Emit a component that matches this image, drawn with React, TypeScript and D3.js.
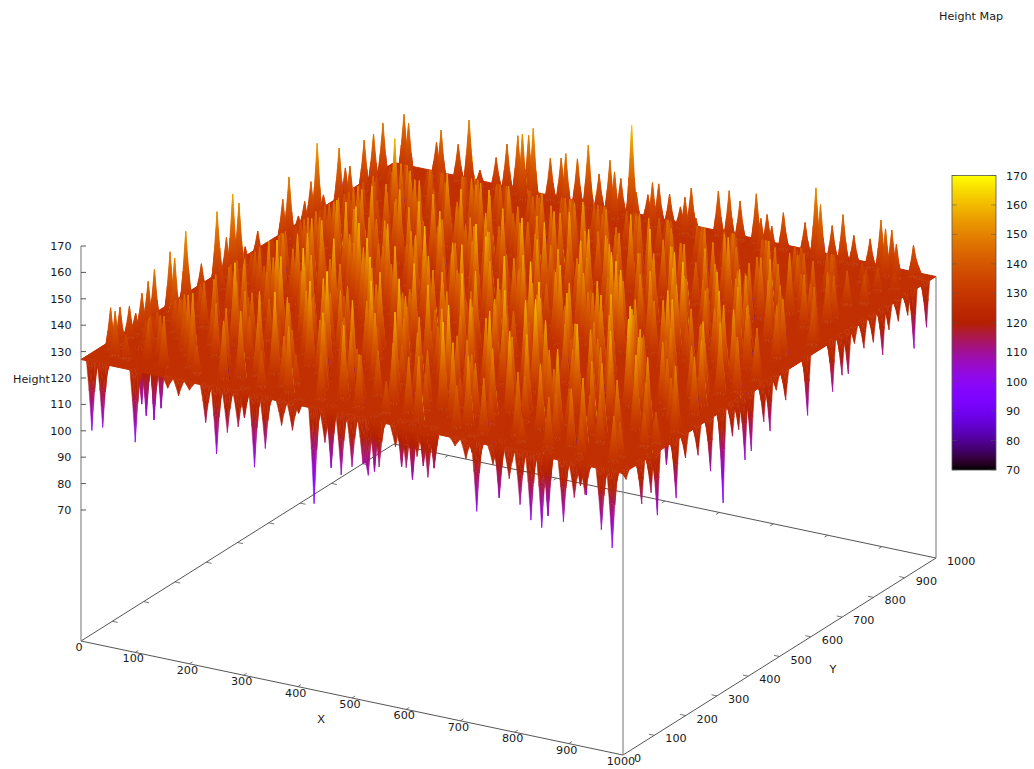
import React, { useRef, useEffect } from "react";
import { select, scaleLinear, range, rgb, line } from "d3";

const WIDTH = 1034;
const HEIGHT = 769;

// ticks
const groundTicks = [0, 100, 200, 300, 400, 500, 600, 700, 800, 900, 1000];
const heightTicks = [70, 80, 90, 100, 110, 120, 130, 140, 150, 160, 170];

// the flat level of the map, everything below is measured against it
const baseLevel = 127;

// downward spikes along the y=0 edge
const frontDipX = [20, 40, 100, 160, 180, 200, 230, 250, 270, 290, 320, 340, 370, 390, 430, 450, 480, 500, 520, 530, 550, 580, 600, 620, 640, 690, 710, 730, 760, 790, 810, 830, 850, 890, 910, 930, 960, 980];
const frontDipZ = [101, 103, 100, 123, 121, 124, 113, 102, 111, 114, 100, 108, 118, 117, 91, 115, 104, 108, 110, 106, 110, 119, 112, 117, 110, 124, 120, 101, 120, 116, 107, 102, 100, 104, 114, 116, 104, 98];

// the same edge, spikes one step behind it (row y=20)
const nearDipX = [290, 390, 450, 530, 580, 600, 620, 640, 710, 760, 850, 910];
const nearDipZ = [116, 122, 104, 106, 110, 106, 112, 112, 121, 106, 103, 117];

// downward spikes along the x=1000 edge
const sideDipY = [10, 60, 90, 110, 170, 200, 240, 280, 320, 350, 370, 390, 410, 450, 470, 490, 520, 590, 670, 700, 720, 740, 770, 800, 830, 850, 880, 910, 930, 970];
const sideDipZ = [124, 111, 113, 103, 105, 118, 116, 107, 92, 115, 116, 103, 105, 113, 108, 122, 116, 105, 108, 112, 111, 121, 117, 117, 110, 118, 119, 119, 105, 110];

// peaks just inside the y=1000 edge (row y=980), they make the back skyline
const backPeakX = [30, 90, 130, 150, 170, 200, 220, 240, 260, 300, 320, 350, 370, 390, 410, 430, 450, 480, 500, 520, 540, 560, 610, 630, 650, 680, 700, 730, 770, 790, 820, 840, 860, 890, 910, 930, 970, 980];
const backPeakZ = [148, 140, 141, 151, 133, 139, 145, 149, 150, 143, 144, 145, 151, 141, 147, 141, 162, 137, 142, 139, 135, 143, 144, 145, 142, 146, 139, 141, 139, 153, 140, 145, 138, 138, 146, 143, 139, 131];

// the same skyline, peaks in the row in front of it (row y=960)
const nextPeakX = [50, 110, 260, 280, 340, 430, 470, 500, 560, 580, 700, 720, 810, 930, 950];
const nextPeakZ = [147, 147, 152, 155, 148, 145, 139, 144, 141, 134, 139, 137, 149, 145, 140];

// peaks just inside the x=0 edge (column x=20), the left skyline
const leftPeakY = [60, 90, 120, 140, 160, 180, 200, 250, 300, 350, 400, 430, 450, 470, 490, 530, 610, 630, 660, 680, 700, 720, 740, 790, 810, 870, 900, 930];
const leftPeakZ = [143, 141, 139, 135, 141, 144, 147, 150, 154, 138, 154, 142, 157, 152, 134, 137, 143, 150, 133, 137, 143, 156, 135, 149, 140, 146, 146, 148];

// the same skyline, column x=40
const sidePeakY = [40, 230, 790];
const sidePeakZ = [144, 150, 143];

const markedX = [60, 80, 70, 100, 90, 840, 930, 580, 860, 140];
const markedY = [90, 70, 110, 60, 100, 160, 260, 170, 260, 760];
const markedZ = [106, 104, 105, 104, 105, 100, 108, 160, 160, 160];

// inner peaks, one list per row: x, height, x, height...
const rowY = [40, 80, 120, 160, 200, 240, 280, 320, 360, 400, 440, 480, 520, 560, 600, 640, 680, 720, 760, 800, 840, 880, 920];
const rowPeaks = [
  [60, 136, 130, 146, 190, 138, 240, 149, 310, 141, 360, 152, 420, 144, 490, 147, 540, 139, 600, 151, 670, 143, 720, 148, 790, 137, 840, 146, 900, 141, 960, 144],
  [30, 131, 100, 142, 160, 153, 220, 140, 280, 147, 350, 138, 400, 156, 470, 143, 530, 150, 590, 141, 640, 155, 710, 139, 760, 149, 830, 144, 880, 152, 940, 138],
  [50, 135, 120, 139, 180, 147, 260, 155, 320, 143, 380, 149, 440, 141, 510, 158, 570, 146, 630, 138, 690, 152, 750, 144, 810, 157, 870, 142, 920, 150, 970, 140],
  [40, 133, 90, 142, 150, 141, 210, 150, 270, 139, 330, 159, 390, 146, 450, 152, 500, 142, 620, 149, 660, 141, 730, 156, 780, 145, 850, 151, 900, 139, 950, 147],
  [70, 138, 130, 148, 200, 146, 250, 138, 300, 151, 370, 144, 420, 160, 480, 148, 550, 155, 600, 140, 680, 150, 740, 143, 800, 160, 860, 147, 930, 153, 980, 141],
  [30, 131, 110, 146, 170, 140, 230, 158, 290, 145, 340, 150, 410, 139, 460, 153, 520, 144, 580, 157, 640, 148, 700, 162, 770, 141, 820, 149, 890, 156, 950, 143],
  [60, 136, 140, 150, 200, 160, 260, 142, 330, 148, 390, 156, 440, 145, 510, 141, 560, 150, 620, 159, 680, 144, 750, 152, 810, 140, 870, 155, 920, 146, 970, 149],
  [40, 134, 100, 144, 170, 149, 240, 153, 300, 140, 360, 147, 430, 158, 490, 150, 540, 138, 600, 146, 660, 161, 720, 142, 790, 154, 850, 148, 910, 141, 960, 152],
  [80, 141, 130, 141, 210, 157, 270, 148, 320, 160, 400, 143, 460, 149, 520, 156, 590, 144, 640, 151, 700, 139, 770, 158, 830, 145, 880, 150, 940, 155],
  [30, 131, 90, 142, 160, 146, 220, 139, 290, 152, 350, 145, 410, 154, 480, 140, 550, 160, 610, 148, 670, 155, 730, 146, 800, 142, 860, 157, 920, 143, 980, 148],
  [60, 137, 120, 140, 190, 155, 250, 149, 310, 143, 380, 161, 440, 147, 500, 153, 570, 141, 630, 157, 690, 149, 760, 140, 820, 152, 890, 146, 950, 154],
  [40, 133, 100, 144, 170, 143, 230, 159, 280, 146, 340, 153, 420, 142, 470, 158, 530, 148, 600, 144, 650, 152, 710, 159, 780, 147, 840, 141, 900, 156, 970, 145],
  [70, 139, 140, 148, 200, 141, 260, 152, 330, 140, 390, 149, 450, 156, 510, 145, 580, 155, 640, 142, 700, 148, 750, 154, 810, 160, 870, 144, 930, 149],
  [30, 131, 110, 146, 180, 150, 240, 145, 300, 158, 360, 141, 430, 152, 490, 160, 550, 143, 610, 150, 670, 146, 730, 139, 790, 151, 850, 155, 910, 140, 960, 147],
  [50, 135, 120, 147, 190, 156, 270, 140, 320, 149, 400, 155, 460, 141, 520, 148, 590, 157, 650, 144, 710, 153, 770, 146, 830, 140, 880, 152, 940, 144],
  [80, 141, 150, 141, 210, 148, 280, 154, 340, 145, 380, 139, 440, 150, 500, 143, 560, 152, 620, 146, 680, 158, 740, 143, 800, 150, 860, 140, 920, 147, 980, 140],
  [40, 133, 110, 146, 170, 150, 230, 143, 300, 147, 360, 156, 420, 146, 480, 153, 540, 140, 600, 150, 660, 142, 720, 151, 780, 144, 840, 149, 900, 139, 960, 145],
  [70, 139, 130, 139, 200, 150, 260, 155, 320, 142, 390, 148, 450, 140, 510, 155, 570, 145, 630, 139, 690, 147, 750, 150, 810, 141, 870, 147, 930, 142],
  [50, 135, 100, 144, 170, 145, 240, 141, 290, 149, 350, 151, 410, 147, 470, 141, 530, 150, 590, 143, 650, 148, 710, 140, 770, 146, 830, 151, 890, 141, 950, 143],
  [80, 138, 140, 147, 210, 143, 270, 147, 330, 140, 380, 146, 440, 147, 500, 144, 560, 139, 620, 147, 680, 141, 740, 147, 800, 140, 860, 144, 920, 139],
  [60, 136, 120, 140, 180, 143, 240, 139, 300, 143, 360, 141, 420, 143, 480, 143, 540, 143, 600, 142, 660, 143, 720, 143, 780, 143, 840, 140, 900, 143, 960, 138],
  [90, 139, 160, 139, 220, 139, 280, 139, 340, 139, 400, 139, 460, 139, 520, 138, 580, 139, 640, 139, 700, 138, 760, 139, 820, 139, 880, 139, 940, 136],
  [50, 133, 130, 135, 190, 134, 250, 135, 310, 134, 370, 135, 430, 134, 490, 135, 550, 133, 610, 135, 670, 134, 730, 135, 790, 134, 850, 135, 910, 134, 970, 133],
];

// peaks of the rows in between
const midRowY = [60, 100, 140, 180, 220, 260, 300, 340, 380, 420, 460, 500, 540, 580, 620, 660, 700, 740, 780, 820, 860, 900];
const midRowPeaks = [
  [90, 142, 170, 144, 260, 152, 340, 146, 450, 155, 570, 148, 680, 153, 770, 143, 870, 149, 960, 140],
  [70, 139, 140, 150, 210, 148, 300, 158, 440, 149, 490, 144, 610, 160, 670, 147, 790, 152, 900, 145],
  [60, 137, 110, 146, 230, 143, 300, 153, 360, 147, 420, 157, 540, 150, 640, 146, 710, 158, 820, 141, 880, 153, 980, 139],
  [70, 139, 180, 158, 280, 147, 350, 162, 440, 145, 520, 152, 590, 148, 650, 160, 760, 150, 840, 144, 920, 155],
  [40, 134, 100, 144, 160, 147, 220, 143, 320, 155, 400, 150, 460, 161, 540, 146, 620, 153, 730, 157, 780, 148, 850, 158, 970, 150],
  [70, 139, 150, 150, 260, 161, 310, 146, 380, 143, 490, 157, 550, 148, 600, 142, 670, 159, 790, 153, 860, 146, 930, 158],
  [30, 131, 100, 144, 170, 145, 240, 150, 360, 159, 420, 148, 480, 144, 530, 160, 590, 153, 720, 149, 780, 146, 840, 161, 900, 150],
  [80, 141, 150, 153, 210, 144, 270, 159, 340, 151, 410, 146, 470, 155, 570, 147, 630, 143, 700, 157, 750, 148, 820, 156, 930, 147],
  [40, 134, 110, 146, 180, 154, 240, 147, 300, 150, 360, 157, 430, 151, 500, 146, 550, 153, 610, 162, 680, 149, 740, 155, 800, 150, 860, 143, 960, 154],
  [60, 137, 130, 149, 200, 146, 270, 159, 330, 146, 390, 150, 460, 159, 530, 145, 590, 150, 650, 144, 710, 156, 780, 152, 840, 158, 900, 147],
  [30, 131, 100, 144, 160, 153, 230, 150, 300, 157, 350, 148, 420, 155, 490, 147, 550, 156, 610, 152, 670, 147, 730, 158, 860, 149, 920, 153, 980, 143],
  [80, 141, 130, 149, 200, 158, 260, 145, 320, 152, 380, 145, 440, 160, 510, 150, 570, 143, 630, 153, 690, 160, 760, 146, 810, 153, 880, 147, 940, 150],
  [40, 134, 100, 144, 160, 154, 220, 150, 290, 143, 350, 158, 410, 149, 470, 145, 530, 155, 610, 158, 660, 146, 720, 150, 780, 155, 840, 149, 900, 153],
  [70, 139, 140, 151, 210, 146, 270, 153, 330, 147, 390, 151, 450, 143, 520, 158, 580, 147, 640, 155, 700, 141, 760, 157, 820, 146, 880, 156, 960, 148],
  [30, 131, 100, 144, 160, 152, 230, 155, 300, 144, 360, 150, 420, 156, 480, 149, 540, 146, 610, 154, 670, 150, 730, 155, 790, 145, 850, 148, 910, 150],
  [60, 137, 130, 149, 200, 147, 250, 141, 320, 156, 390, 145, 460, 152, 520, 156, 590, 149, 650, 146, 710, 151, 770, 153, 830, 147, 890, 154, 970, 142],
  [90, 142, 160, 145, 220, 152, 290, 147, 350, 152, 420, 145, 480, 151, 550, 147, 610, 156, 670, 149, 730, 143, 790, 155, 850, 150, 930, 147],
  [40, 134, 110, 143, 180, 151, 250, 147, 310, 152, 370, 143, 440, 149, 500, 152, 560, 146, 620, 152, 680, 145, 760, 152, 820, 146, 880, 150, 950, 146],
  [70, 139, 140, 149, 200, 142, 270, 149, 340, 147, 400, 149, 460, 148, 520, 143, 580, 149, 640, 144, 700, 149, 760, 142, 830, 147, 900, 145],
  [40, 134, 100, 141, 170, 145, 230, 145, 300, 145, 360, 143, 420, 145, 480, 145, 550, 144, 610, 145, 670, 143, 730, 145, 790, 145, 860, 143, 940, 140],
  [80, 141, 150, 141, 210, 141, 270, 141, 330, 141, 390, 141, 450, 141, 510, 141, 570, 141, 640, 141, 690, 141, 760, 141, 820, 141, 880, 141],
  [50, 135, 120, 137, 190, 137, 250, 137, 310, 137, 370, 137, 440, 137, 500, 137, 560, 137, 620, 137, 680, 137, 740, 137, 810, 137, 870, 137, 950, 136],
];

const floorHeight = 70 - 131 / 2.64;

// how much of a spike's height is kept half way down its side, and between sides
const shoulder = 0.43;
const hollow = 0.16;

// world to screen, the map is a parallel projection so each axis adds up
const xAcross = scaleLinear().domain([0, 1000]).range([0, 542]);
const xDown = scaleLinear().domain([0, 1000]).range([0, 114]);
const yAcross = scaleLinear().domain([0, 1000]).range([0, 313]);
const yDown = scaleLinear().domain([0, 1000]).range([0, -197]);
const zUp = scaleLinear().domain([70, 170]).range([510, 246]);
const barY = scaleLinear().domain([70, 170]).range([470, 175.5]);

function project(x, y, z) {
  return [81 + xAcross(x) + yAcross(y), zUp(z) + xDown(x) + yDown(y)];
}

// gnuplot's default pm3d palette (rgbformulae 7,5,15)
function paletteColor(z) {
  const g = Math.max(0, Math.min(1, (z - 70) / 100));
  return rgb(
    255 * Math.sqrt(g),
    255 * g * g * g,
    255 * Math.max(0, Math.sin(2 * Math.PI * g))
  ).formatHex();
}

function buildGrid() {
  const grid = range(101).map(() => range(101).map(() => baseLevel));
  const put = (x, y, z) => {
    grid[Math.round(y / 10)][Math.round(x / 10)] = z;
  };
  const putRows = (ys, rows) => {
    ys.forEach((y, r) => {
      const cells = rows[r];
      for (let k = 0; k < cells.length; k += 2) put(cells[k], y, cells[k + 1]);
    });
  };
  putRows(rowY, rowPeaks);
  putRows(midRowY, midRowPeaks);
  backPeakX.forEach((x, k) => put(x, 980, backPeakZ[k]));
  nextPeakX.forEach((x, k) => put(x, 960, nextPeakZ[k]));
  leftPeakY.forEach((y, k) => put(20, y, leftPeakZ[k]));
  sidePeakY.forEach((y, k) => put(40, y, sidePeakZ[k]));
  markedX.forEach((x, k) => put(x, markedY[k], markedZ[k]));
  frontDipX.forEach((x, k) => put(x, 0, frontDipZ[k]));
  nearDipX.forEach((x, k) => put(x, 20, nearDipZ[k]));
  sideDipY.forEach((y, k) => put(1000, y, sideDipZ[k]));
  return grid;
}

// mesh for drawing at half the step, like pm3d interpolate, so the spikes taper
function refineGrid(grid) {
  const lift = (z) => z - baseLevel;
  return range(201).map((j) =>
    range(201).map((i) => {
      const i0 = Math.floor(i / 2);
      const j0 = Math.floor(j / 2);
      if (i % 2 === 0 && j % 2 === 0) return grid[j0][i0];
      if (i % 2 === 1 && j % 2 === 1) {
        return (
          baseLevel +
          hollow *
            (lift(grid[j0][i0]) + lift(grid[j0][i0 + 1]) + lift(grid[j0 + 1][i0]) + lift(grid[j0 + 1][i0 + 1]))
        );
      }
      if (i % 2 === 1) return baseLevel + shoulder * (lift(grid[j0][i0]) + lift(grid[j0][i0 + 1]));
      return baseLevel + shoulder * (lift(grid[j0][i0]) + lift(grid[j0 + 1][i0]));
    })
  );
}

function App() {
  const svgRef = useRef();

  useEffect(() => {
    const svg = select(svgRef.current);
    svg.selectAll("*").remove();
    const defs = svg.append("defs");

    // one master list of stops, every triangle's gradient points at it
    const master = defs
      .append("linearGradient")
      .attr("id", "heightPalette")
      .attr("gradientUnits", "userSpaceOnUse");
    range(0, 51).forEach((k) => {
      master
        .append("stop")
        .attr("offset", k / 50)
        .attr("stop-color", paletteColor(70 + k * 2));
    });

    const pathOf = line();
    const lineColor = "#555";

    // floor and box, they sit behind the surface
    const corners = [
      project(0, 0, floorHeight),
      project(1000, 0, floorHeight),
      project(1000, 1000, floorHeight),
      project(0, 1000, floorHeight),
    ];
    svg
      .append("path")
      .attr("d", pathOf(corners) + "Z")
      .attr("fill", "none")
      .attr("stroke", lineColor)
      .attr("stroke-width", 1);
    [
      [0, 0, 170],
      [1000, 0, baseLevel],
      [1000, 1000, baseLevel],
    ].forEach(([x, y, top]) => {
      svg
        .append("path")
        .attr("d", pathOf([project(x, y, floorHeight), project(x, y, top)]))
        .attr("fill", "none")
        .attr("stroke", "#888")
        .attr("stroke-width", 1.2);
    });

    // tick marks on the four floor edges
    groundTicks.slice(1, -1).forEach((t) => {
      [
        [t, 0, t, 10],
        [t, 1000, t, 990],
        [0, t, 10, t],
        [1000, t, 990, t],
      ].forEach(([x0, y0, x1, y1]) => {
        svg
          .append("path")
          .attr("d", pathOf([project(x0, y0, floorHeight), project(x1, y1, floorHeight)]))
          .attr("stroke", lineColor)
          .attr("stroke-width", 0.8);
      });
    });
    heightTicks.forEach((t) => {
      const [px, py] = project(0, 0, t);
      svg
        .append("path")
        .attr("d", pathOf([[px, py], [px + 5, py]]))
        .attr("stroke", lineColor);
    });

    // surface, painted from the far corner (0,1000) to the near one (1000,0)
    const mesh = refineGrid(buildGrid());
    const surface = svg.append("g");
    let gradientId = 0;
    const step = 5;

    const drawTriangle = (a, b, c) => {
      const pa = project(a[0] * step, a[1] * step, a[2]);
      const pb = project(b[0] * step, b[1] * step, b[2]);
      const pc = project(c[0] * step, c[1] * step, c[2]);
      const d = pathOf([pa, pb, pc]) + "Z";
      const det = (pb[0] - pa[0]) * (pc[1] - pa[1]) - (pc[0] - pa[0]) * (pb[1] - pa[1]);
      let paint = paletteColor((a[2] + b[2] + c[2]) / 3);
      const spread = Math.max(a[2], b[2], c[2]) - Math.min(a[2], b[2], c[2]);
      if (spread > 1.5 && Math.abs(det) > 0.01) {
        const gx = ((b[2] - a[2]) * (pc[1] - pa[1]) - (c[2] - a[2]) * (pb[1] - pa[1])) / det;
        const gy = ((pb[0] - pa[0]) * (c[2] - a[2]) - (pc[0] - pa[0]) * (b[2] - a[2])) / det;
        const len = gx * gx + gy * gy;
        if (len > 1e-6) {
          const id = "t" + gradientId++;
          defs
            .append("linearGradient")
            .attr("id", id)
            .attr("href", "#heightPalette")
            .attr("x1", pa[0] + ((70 - a[2]) * gx) / len)
            .attr("y1", pa[1] + ((70 - a[2]) * gy) / len)
            .attr("x2", pa[0] + ((170 - a[2]) * gx) / len)
            .attr("y2", pa[1] + ((170 - a[2]) * gy) / len);
          paint = `url(#${id})`;
        }
      }
      surface
        .append("path")
        .attr("d", d)
        .attr("fill", paint)
        .attr("stroke", paint)
        .attr("stroke-width", 0.5);
    };

    const flatColor = paletteColor(baseLevel);
    const drawFlatRun = (i0, i1, j) => {
      surface
        .append("path")
        .attr(
          "d",
          pathOf([
            project(i0 * step, j * step, baseLevel),
            project(i1 * step, j * step, baseLevel),
            project(i1 * step, (j + 1) * step, baseLevel),
            project(i0 * step, (j + 1) * step, baseLevel),
          ]) + "Z"
        )
        .attr("fill", flatColor)
        .attr("stroke", flatColor)
        .attr("stroke-width", 1);
    };

    for (let j = 199; j >= 0; j--) {
      let runStart = -1;
      for (let i = 0; i < 200; i++) {
        const z00 = mesh[j][i];
        const z10 = mesh[j][i + 1];
        const z01 = mesh[j + 1][i];
        const z11 = mesh[j + 1][i + 1];
        const flat = z00 === baseLevel && z10 === baseLevel && z01 === baseLevel && z11 === baseLevel;
        if (flat) {
          if (runStart < 0) runStart = i;
          continue;
        }
        if (runStart >= 0) {
          drawFlatRun(runStart, i, j);
          runStart = -1;
        }
        const p00 = [i, j, z00];
        const p10 = [i + 1, j, z10];
        const p01 = [i, j + 1, z01];
        const p11 = [i + 1, j + 1, z11];
        // split along the diagonal that doesn't touch a spike
        if (Math.abs(z00 - z11) <= Math.abs(z10 - z01)) {
          drawTriangle(p00, p11, p01);
          drawTriangle(p00, p10, p11);
        } else {
          drawTriangle(p10, p11, p01);
          drawTriangle(p00, p10, p01);
        }
      }
      if (runStart >= 0) drawFlatRun(runStart, 200, j);
    }

    // colour box
    const barGradient = defs
      .append("linearGradient")
      .attr("id", "barPalette")
      .attr("x1", 0)
      .attr("y1", 1)
      .attr("x2", 0)
      .attr("y2", 0);
    range(0, 51).forEach((k) => {
      barGradient
        .append("stop")
        .attr("offset", k / 50)
        .attr("stop-color", paletteColor(70 + k * 2));
    });
    svg
      .append("rect")
      .attr("x", 952)
      .attr("y", barY(170))
      .attr("width", 44)
      .attr("height", barY(70) - barY(170))
      .attr("fill", "url(#barPalette)")
      .attr("stroke", lineColor)
      .attr("stroke-width", 0.8);
    heightTicks.forEach((t) => {
      [[952, 957], [996, 991]].forEach(([x0, x1]) => {
        svg
          .append("path")
          .attr("d", pathOf([[x0, barY(t)], [x1, barY(t)]]))
          .attr("stroke", lineColor)
          .attr("stroke-opacity", 0.6)
          .attr("stroke-width", 0.8);
      });
    });

    // text
    const text = svg
      .append("g")
      .attr("font-family", "'DejaVu Sans'")
      .attr("font-size", 11.2)
      .attr("fill", "#1a1a1a");
    const label = (x, y, str, anchor) => {
      text
        .append("text")
        .attr("x", x)
        .attr("y", y)
        .attr("dy", "0.36em")
        .attr("text-anchor", anchor)
        .text(str);
    };
    groundTicks.forEach((t) => {
      const [xx, xy] = project(t, 0, floorHeight);
      label(xx - 2, xy + 6, t, "middle");
      const [yx, yy] = project(1000, t, floorHeight);
      label(yx + 11, yy + 3, t, "start");
    });
    heightTicks.forEach((t) => {
      label(71.5, zUp(t), t, "end");
      label(1006, barY(t), t, "start");
    });
    label(13, 378.5, "Height", "start");
    label(321, 718.5, "X", "middle");
    label(833, 668.5, "Y", "middle");
    label(939, 15.5, "Height Map", "start");
  }, []);

  return (
    <svg
      ref={svgRef}
      width={WIDTH}
      height={HEIGHT}
      style={{ position: "absolute", left: 0, top: 0, background: "#fff" }}
    ></svg>
  );
}

export default App;
